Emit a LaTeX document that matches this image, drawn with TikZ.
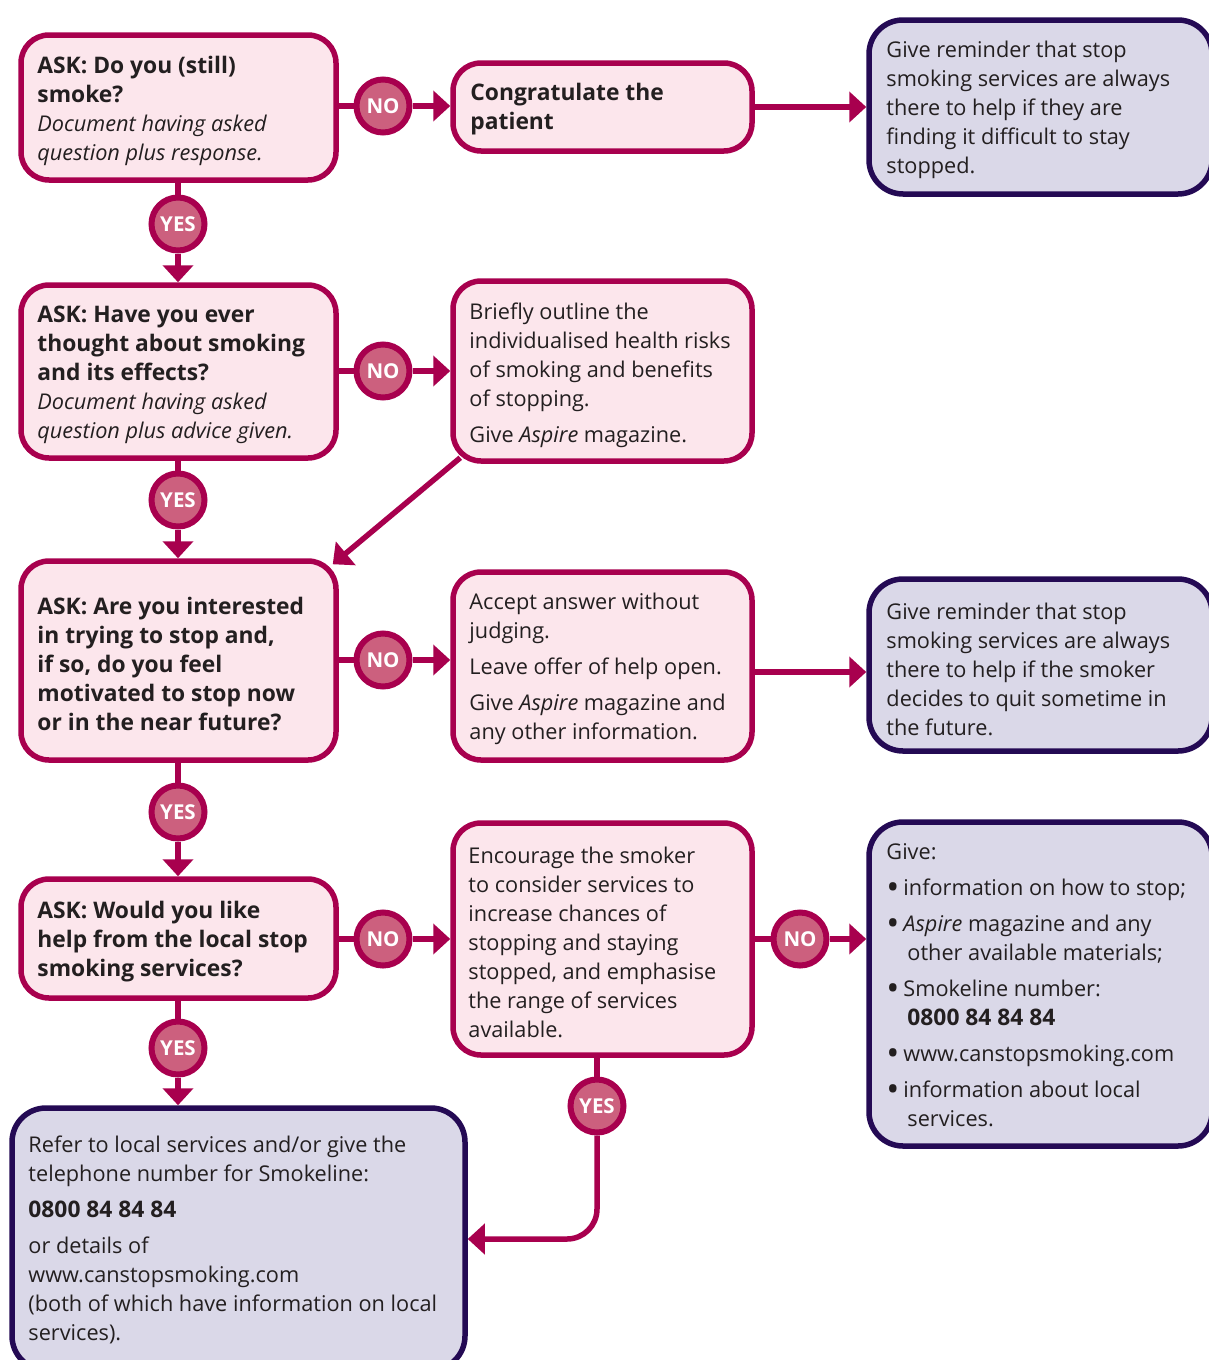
\documentclass[tikz,border=0pt]{standalone}
\usepackage{fontspec}
\setmainfont{Open Sans}
\usetikzlibrary{arrows.meta,calc}
\definecolor{mag}{RGB}{168,0,78}
\definecolor{pinkfill}{RGB}{252,230,236}
\definecolor{circfill}{RGB}{204,96,126}
\definecolor{purp}{RGB}{36,10,84}
\definecolor{purpfill}{RGB}{218,216,232}
\definecolor{txtc}{RGB}{35,31,32}
\newcommand{\bul}{\makebox[17pt][l]{\raisebox{-4.5pt}{\scalebox{1.6}{\textbullet}}}}
\newcommand{\hang}{\hspace*{21pt}}
\newcommand{\B}[1]{{\fontsize{22.8}{29}\selectfont\bfseries #1}}
\tikzset{
  pinkbox/.style={draw=mag, fill=pinkfill, line width=5.5pt, rounded corners=28pt, inner sep=0pt},
  purpbox/.style={draw=purp, fill=purpfill, line width=5.5pt, rounded corners=34pt, inner sep=0pt},
  boxtext/.style={anchor=west, align=left, inner sep=0pt, text=txtc, font=\fontsize{21.7}{29}\selectfont},
  yesno/.style={circle, draw=mag, fill=circfill, line width=6pt, minimum size=53pt, inner sep=0pt, text=white, font=\fontsize{20.5}{24}\selectfont\bfseries},
  conn/.style={draw=mag, line width=5.5pt},
  arr/.style={conn, -{Triangle[length=17pt,width=30pt]}}
}
\begin{document}
\begin{tikzpicture}[x=1pt,y=-1pt]
\useasboundingbox (0,0) rectangle (1209,1360);
% boxes
\node[pinkbox, minimum width=315, minimum height=145] (a1) at (178.5,107.5) {};
\node[pinkbox, minimum width=299, minimum height=88] (b1) at (602.5,107) {};
\node[purpbox, minimum width=343, minimum height=174] (c1) at (1040.5,107) {};
\node[pinkbox, minimum width=315, minimum height=173] (a2) at (178.5,371.5) {};
\node[pinkbox, minimum width=299, minimum height=180] (b2) at (602.5,371) {};
\node[pinkbox, minimum width=315, minimum height=199] (a3) at (178.5,660.5) {};
\node[pinkbox, minimum width=299, minimum height=188] (b3) at (602.5,666) {};
\node[purpbox, minimum width=343, minimum height=172] (c3) at (1040.5,665) {};
\node[pinkbox, minimum width=315, minimum height=119] (a4) at (178.5,938.5) {};
\node[pinkbox, minimum width=299, minimum height=232] (b4) at (602.5,939) {};
\node[purpbox, minimum width=343, minimum height=324] (c4) at (1040.5,984) {};
\node[purpbox, minimum width=453, minimum height=262] (d) at (238.5,1239) {};
% texts
\node[boxtext] (a1t) at ($(a1.west)+(19,3)$) {\B{ASK: Do you (still)}\\ \B{smoke?}\\ \textit{Document having asked}\\ \textit{question plus response.}};
\node[boxtext] (b1t) at ($(b1.west)+(20,2)$) {\B{Congratulate the}\\ \B{patient}};
\node[boxtext] (c1t) at ($(c1.west)+(20,3)$) {Give reminder that stop\\ smoking services are always\\ there to help if they are\\ finding it difficult to stay\\ stopped.};
\node[boxtext] (a2t) at ($(a2.west)+(19,3)$) {\B{ASK: Have you ever}\\ \B{thought about smoking}\\ \B{and its effects?}\\ \textit{Document having asked}\\ \textit{question plus advice given.}};
\node[boxtext] (b2t) at ($(b2.west)+(19,4)$) {Briefly outline the\\ individualised health risks\\ of smoking and benefits\\ of stopping.\\[7pt] Give \textit{Aspire} magazine.};
\node[boxtext] (a3t) at ($(a3.west)+(19,3)$) {\B{ASK: Are you interested}\\ \B{in trying to stop and,}\\ \B{if so, do you feel}\\ \B{motivated to stop now}\\ \B{or in the near future?}};
\node[boxtext] (b3t) at ($(b3.west)+(19,3)$) {Accept answer without\\ judging.\\[7pt] Leave offer of help open.\\[7pt] Give \textit{Aspire} magazine and\\ any other information.};
\node[boxtext] (c3t) at ($(c3.west)+(20,4)$) {Give reminder that stop\\ smoking services are always\\ there to help if the smoker\\ decides to quit sometime in\\ the future.};
\node[boxtext] (a4t) at ($(a4.west)+(19,3)$) {\B{ASK: Would you like}\\ \B{help from the local stop}\\ \B{smoking services?}};
\node[boxtext] (b4t) at ($(b4.west)+(18,3)$) {Encourage the smoker\\ to consider services to\\ increase chances of\\ stopping and staying\\ stopped, and emphasise\\ the range of services\\ available.};
\node[boxtext] (c4t) at ($(c4.west)+(20,1)$) {Give:\\[7pt] \bul information on how to stop;\\[7pt] \bul\textit{Aspire} magazine and any\\ \hang other available materials;\\[7pt] \bul Smokeline number:\\ \hang\B{0800 84 84 84}\\[7pt] \bul www.canstopsmoking.com\\[7pt] \bul information about local\\ \hang services.};
\node[boxtext] (dt) at ($(d.west)+(19,1)$) {Refer to local services and/or give the\\ telephone number for Smokeline:\\[7pt] \B{0800 84 84 84}\\[7pt] or details of\\ www.canstopsmoking.com\\ (both of which have information on local\\ services).};
% circles
\node[yesno] (no1) at (383,106) {NO};
\node[yesno] (no2) at (383,371) {NO};
\node[yesno] (no3) at (383,660) {NO};
\node[yesno] (no4) at (383,939) {NO};
\node[yesno] (no5) at (800,939) {NO};
\node[yesno] (yes1) at (178,224) {YES};
\node[yesno] (yes2) at (178,500) {YES};
\node[yesno] (yes3) at (178,812) {YES};
\node[yesno] (yes4) at (178,1048) {YES};
\node[yesno] (yes5) at (597,1106) {YES};
% connectors
\draw[conn] (a1.east |- no1) -- (no1);
\draw[arr] (no1) -- (b1.west |- no1);
\draw[arr] (b1.east) -- (c1.west |- b1.east);
\draw[conn] (a1.south -| yes1) -- (yes1);
\draw[arr] (yes1) -- (a2.north -| yes1);
\draw[conn] (a2.east |- no2) -- (no2);
\draw[arr] (no2) -- (b2.west |- no2);
\draw[arr] ($(b2.south west)+(10,-6)$) -- ($(a3.north east)+(-6,6)$);
\draw[conn] (a2.south -| yes2) -- (yes2);
\draw[arr] (yes2) -- (a3.north -| yes2);
\draw[conn] (a3.east |- no3) -- (no3);
\draw[arr] (no3) -- (b3.west |- no3);
\draw[arr] ($(b3.east)+(0,6)$) -- ($(c3.west)+(0,7)$);
\draw[conn] (a3.south -| yes3) -- (yes3);
\draw[arr] (yes3) -- (a4.north -| yes3);
\draw[conn] (a4.east |- no4) -- (no4);
\draw[arr] (no4) -- (b4.west |- no4);
\draw[conn] (b4.east |- no5) -- (no5);
\draw[arr] (no5) -- (c4.west |- no5);
\draw[conn] (a4.south -| yes4) -- (yes4);
\draw[arr] (yes4) -- (d.north -| yes4);
\draw[conn] (b4.south -| yes5) -- (yes5);
\draw[arr, rounded corners=30pt] (yes5) |- (d.east);
\end{tikzpicture}
\end{document}
